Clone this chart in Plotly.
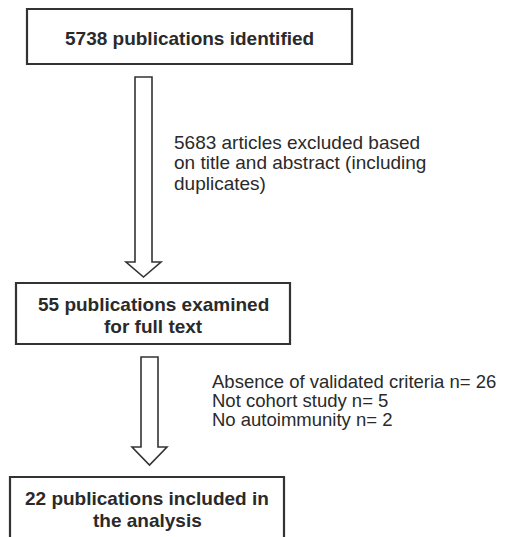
import plotly.graph_objects as go

# ---- content ----
box_lines = [
    ["5738 publications identified"],
    ["55 publications examined", "for full text"],
    ["22 publications included in", "the analysis"],
]
screen_lines = ["5683 articles excluded based", "on title and abstract (including", "duplicates)"]
exclusion_reasons = ["Absence of validated criteria", "Not cohort study", "No autoimmunity"]
exclusion_n = [26, 5, 2]

# ---- layout geometry (page-pixel data coords) ----
boxes = [(27, 9, 352, 64), (16, 283, 290, 344), (10, 477, 284, 560)]
box_text_y = [[38], [304, 326], [498, 520]]
arrows = [  # x0, x1 shaft, y top, head base, head half-width, tip
    (135, 152, 77, 262, 17.5, 277),
    (141, 158, 357, 447, 17.5, 465),
]
screen_pos = (172, [142, 162.5, 183])
excl_pos = (210, [381, 400, 419])

LINE = "#333333"
TXT = "#2a2a2a"
FONT = "Liberation Sans, Arial, Helvetica, sans-serif"

# the page body has an 8px margin, so offset the axis ranges by 8
OFF = 8
W, H = 508, 537

fig = go.Figure()
fig.add_trace(go.Scatter(x=[OFF, OFF + W], y=[OFF, OFF + H], mode="markers",
                         marker=dict(opacity=0), hoverinfo="skip", showlegend=False))

shapes = []
for (x0, y0, x1, y1) in boxes:
    shapes.append(dict(type="rect", xref="x", yref="y", x0=x0, y0=y0, x1=x1, y1=y1,
                       line=dict(color=LINE, width=2.2), fillcolor="white"))
for (sx0, sx1, yt, yb, hw, tip) in arrows:
    cx = (sx0 + sx1) / 2
    path = (f"M {sx0} {yt} L {sx1} {yt} L {sx1} {yb} L {cx + hw} {yb} "
            f"L {cx} {tip} L {cx - hw} {yb} L {sx0} {yb} Z")
    shapes.append(dict(type="path", xref="x", yref="y", path=path,
                       line=dict(color=LINE, width=1.6), fillcolor="white"))

annotations = []
for (x0, y0, x1, y1), lines, ys in zip(boxes, box_lines, box_text_y):
    for t, y in zip(lines, ys):
        annotations.append(dict(x=(x0 + x1) / 2, y=y, xref="x", yref="y", text=f"<b>{t}</b>",
                                showarrow=False, xanchor="center", yanchor="middle",
                                font=dict(family=FONT, size=19, color=TXT)))
for t, y in zip(screen_lines, screen_pos[1]):
    annotations.append(dict(x=screen_pos[0], y=y, xref="x", yref="y", text=t,
                            showarrow=False, xanchor="left", yanchor="middle",
                            font=dict(family=FONT, size=19, color=TXT)))
for r, n, y in zip(exclusion_reasons, exclusion_n, excl_pos[1]):
    annotations.append(dict(x=excl_pos[0], y=y, xref="x", yref="y", text=f"{r} n= {n}",
                            showarrow=False, xanchor="left", yanchor="middle",
                            font=dict(family=FONT, size=18.5, color=TXT)))

fig.update_layout(
    width=W, height=H, margin=dict(l=0, r=0, t=0, b=0),
    paper_bgcolor="white", plot_bgcolor="white",
    xaxis=dict(range=[OFF, OFF + W], visible=False, fixedrange=True),
    yaxis=dict(range=[OFF + H, OFF], visible=False, fixedrange=True),
    shapes=shapes, annotations=annotations, showlegend=False,
)
fig.write_html("out.html")
